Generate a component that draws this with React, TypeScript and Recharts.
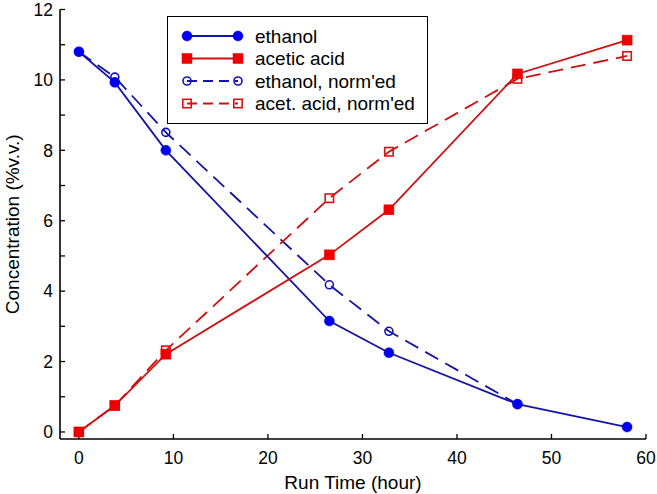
import React from "react";
import { LineChart, Line, XAxis, YAxis, Legend } from "recharts";

const times = [0, 3.8, 9.2, 26.5, 32.8, 46.4, 58];
const ethanol = [10.8, 9.93, 8.0, 3.15, 2.25, 0.79, 0.14];
const aceticAcid = [0, 0.75, 2.21, 5.03, 6.31, 10.17, 11.13];
const ethanolNorm: (number | null)[] = [10.8, 10.08, 8.51, 4.18, 2.86, 0.79, null];
const aceticNorm = [0, 0.75, 2.32, 6.64, 7.96, 10.03, 10.68];

const xTicks = [0, 10, 20, 30, 40, 50, 60];
const yTicks = [0, 1, 2, 3, 4, 5, 6, 7, 8, 9, 10, 11, 12];

const data = times.map((t, i) => ({
  t,
  ethanol: ethanol[i],
  acetic: aceticAcid[i],
  ethanolNorm: ethanolNorm[i],
  aceticNorm: aceticNorm[i],
}));

const FONT = "'Liberation Sans', Arial, Helvetica, sans-serif";
const BLUE_LINE = "#1414a8";
const BLUE_MARK = "#0000ee";
const RED_LINE = "#d01010";
const RED_MARK = "#ee0000";

type MarkerKind = "filledCircle" | "filledSquare" | "openCircle" | "openSquare";

function Marker({ kind, cx, cy, color }: { kind: MarkerKind; cx: number; cy: number; color: string }) {
  if (kind === "filledCircle") return <circle cx={cx} cy={cy} r={5} fill={color} stroke={color} strokeWidth={0.5} />;
  if (kind === "filledSquare") return <rect x={cx - 5} y={cy - 5} width={10} height={10} fill={color} stroke={color} strokeWidth={0.5} />;
  if (kind === "openCircle") return <circle cx={cx} cy={cy} r={4} fill="none" stroke={color} strokeWidth={1.6} />;
  return <rect x={cx - 4.2} y={cy - 4.2} width={8.4} height={8.4} fill="none" stroke={color} strokeWidth={1.6} />;
}

const series = [
  { key: "ethanolNorm", name: "ethanol, norm'ed", line: BLUE_LINE, mark: "#1010c0", kind: "openCircle" as MarkerKind, dash: "15 8" },
  { key: "aceticNorm", name: "acet. acid, norm'ed", line: RED_LINE, mark: "#dd1111", kind: "openSquare" as MarkerKind, dash: "15 8" },
  { key: "ethanol", name: "ethanol", line: BLUE_LINE, mark: BLUE_MARK, kind: "filledCircle" as MarkerKind, dash: undefined },
  { key: "acetic", name: "acetic acid", line: RED_LINE, mark: RED_MARK, kind: "filledSquare" as MarkerKind, dash: undefined },
];
const legendOrder = ["ethanol", "acetic", "ethanolNorm", "aceticNorm"];

const TICK_LEN = 5;
const tickLineStyle = { stroke: "#000", strokeWidth: 1.3 };

// Label positions: with negative tickSize (inward ticks) and tickMargin = TICK_LEN,
// the x/y handed to the tick renderer is the axis line coordinate itself.
const BottomTick = (props: any) => {
  const { x, y, payload } = props;
  return (
    <text x={x} y={y + 25} textAnchor="middle" fontSize={17.5} fontFamily={FONT} fill="#000">
      {payload.value}
    </text>
  );
};
const LeftTick = (props: any) => {
  const { x, y, payload } = props;
  const v = payload.value;
  if (v % 2 !== 0) return <g />;
  return (
    <text x={x - 7} y={y} dy="0.36em" textAnchor="end" fontSize={17.5} fontFamily={FONT} fill="#000">
      {v}
    </text>
  );
};
const EmptyTick = () => <g />;

const LegendBox = () => {
  const rows = legendOrder.map((k) => series.find((s) => s.key === k)!);
  return (
    <div
      style={{
        width: 261,
        height: 108,
        border: "1.6px solid #000",
        boxSizing: "border-box",
        background: "#fff",
        position: "relative",
      }}
    >
      <svg width={258} height={105} style={{ position: "absolute", left: 0, top: 0 }}>
        {rows.map((s, i) => {
          const cy = 19 + i * 22.5;
          return (
            <g key={s.key}>
              <line x1={19} y1={cy} x2={70} y2={cy} stroke={s.line} strokeWidth={1.8} strokeDasharray={s.dash ? "10 6" : undefined} />
              <Marker kind={s.kind} cx={19} cy={cy} color={s.mark} />
              <Marker kind={s.kind} cx={70} cy={cy} color={s.mark} />
              <text x={87} y={cy + 6.5} fontSize={19} fontFamily={FONT} fill="#000">
                {s.name}
              </text>
            </g>
          );
        })}
      </svg>
    </div>
  );
};

export default function App() {
  return (
    <div style={{ position: "absolute", left: 0, top: 0, width: 657, height: 494, background: "#fff", fontFamily: FONT }}>
      <LineChart width={657} height={494} data={data} margin={{ top: 9.5, right: 11, bottom: 0, left: 0 }}>
        <XAxis
          xAxisId="bottom"
          type="number"
          dataKey="t"
          domain={[-2, 60]}
          ticks={xTicks}
          orientation="bottom"
          height={55}
          tickSize={-TICK_LEN}
          tickMargin={TICK_LEN}
          tickLine={tickLineStyle}
          axisLine={{ stroke: "#000", strokeWidth: 1.6 }}
          tick={<BottomTick />}
          interval={0}
          allowDataOverflow
          label={{
            content: (p: any) => {
              const vb = p.viewBox || {};
              return (
                <text x={(vb.x ?? 60) + (vb.width ?? 586) / 2} y={489} textAnchor="middle" fontSize={19} fontFamily={FONT} fill="#000">
                  Run Time (hour)
                </text>
              );
            },
          }}
        />
        <XAxis
          xAxisId="top"
          type="number"
          domain={[-2, 60]}
          ticks={xTicks}
          orientation="top"
          height={0}
          tickSize={-TICK_LEN}
          tickMargin={TICK_LEN}
          tickLine={tickLineStyle}
          axisLine={{ stroke: "#000", strokeWidth: 1.6 }}
          tick={<EmptyTick />}
          interval={0}
          allowDataOverflow
        />
        <YAxis
          yAxisId="left"
          type="number"
          domain={[-0.2, 12]}
          ticks={yTicks}
          width={60}
          tickSize={-TICK_LEN}
          tickMargin={TICK_LEN}
          tickLine={tickLineStyle}
          axisLine={{ stroke: "#000", strokeWidth: 1.6 }}
          tick={<LeftTick />}
          interval={0}
          allowDataOverflow
          label={{
            content: (p: any) => {
              const vb = p.viewBox || {};
              const cy = (vb.y ?? 9.5) + (vb.height ?? 429.5) / 2;
              return (
                <text x={18.5} y={cy} transform={`rotate(-90, 18.5, ${cy})`} textAnchor="middle" fontSize={19} fontFamily={FONT} fill="#000">
                  Concentration (%v.v.)
                </text>
              );
            },
          }}
        />
        <YAxis
          yAxisId="right"
          type="number"
          orientation="right"
          domain={[-0.2, 12]}
          ticks={yTicks}
          width={0}
          tickSize={-TICK_LEN}
          tickMargin={TICK_LEN}
          tickLine={tickLineStyle}
          axisLine={{ stroke: "#000", strokeWidth: 1.6 }}
          tick={<EmptyTick />}
          interval={0}
          allowDataOverflow
        />
        <Legend
          layout="vertical"
          align="center"
          verticalAlign="middle"
          content={() => <LegendBox />}
          wrapperStyle={{ position: "absolute", left: 167, top: 16, width: 261, height: 108 }}
        />
        {series.map((s) => (
          <Line
            key={s.key}
            xAxisId="bottom"
            yAxisId="left"
            type="linear"
            dataKey={s.key}
            name={s.name}
            stroke={s.line}
            strokeWidth={1.8}
            strokeDasharray={s.dash}
            isAnimationActive={false}
            connectNulls={false}
            activeDot={false}
            dot={(p: any) => {
              if (p.cx == null || p.cy == null || p.value == null) return <g key={`${s.key}-${p.index}`} />;
              return (
                <g key={`${s.key}-${p.index}`}>
                  <Marker kind={s.kind} cx={p.cx} cy={p.cy} color={s.mark} />
                </g>
              );
            }}
          />
        ))}
      </LineChart>
    </div>
  );
}
